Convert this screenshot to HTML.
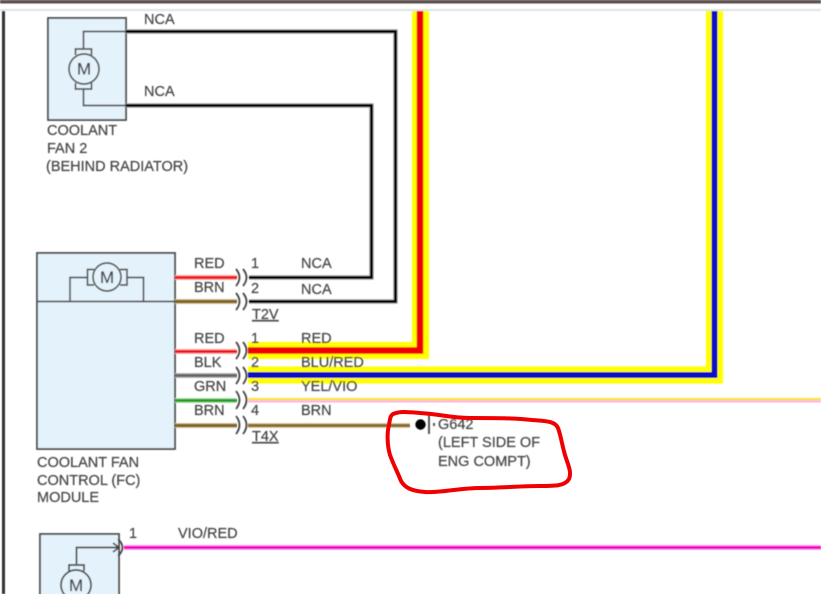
<!DOCTYPE html>
<html>
<head>
<meta charset="utf-8">
<style>
html,body{margin:0;padding:0;background:#fff;width:821px;height:594px;overflow:hidden}
svg{display:block}
text{font-family:"Liberation Sans",sans-serif;font-size:14.5px;fill:#444;stroke:#555;stroke-width:0.25px}
</style>
</head>
<body>
<svg width="821" height="594" viewBox="0 0 821 594" xmlns="http://www.w3.org/2000/svg">
<defs><filter id="b" x="-2%" y="-2%" width="104%" height="104%"><feGaussianBlur stdDeviation="0.45"/></filter></defs>
<rect width="821" height="594" fill="#fff"/>
<g filter="url(#b)">
<!-- chrome -->
<rect x="0" y="0" width="821" height="3.500" fill="#5b5050"/>
<rect x="0" y="9" width="821" height="2" fill="#dfe3e3"/>
<rect x="2" y="11" width="3" height="583" fill="#333"/>

<!-- boxes -->
<g fill="#e4f3fb" stroke="#4a4a4a" stroke-width="1.800">
<rect x="48" y="18" width="78" height="102"/>
<rect x="37" y="253" width="138" height="196"/>
<rect x="40" y="534" width="79" height="70"/>
</g>
<line x1="37" y1="301.500" x2="175" y2="301.500" stroke="#555" stroke-width="1.800"/>

<!-- coolant fan 2 motor -->
<g fill="none" stroke="#555" stroke-width="1.700">
<path d="M126 31.500H83.500V49M83.500 89V105.500H126"/>
<path d="M75.500 55V49H91.500V55M75.500 83V89H91.500V83"/>
<circle cx="84" cy="69" r="15" fill="#e4f3fb"/>
</g>
<text x="77" y="74.500" style="font-size:17px">M</text>

<!-- module motor -->
<g fill="none" stroke="#555" stroke-width="1.700">
<path d="M70 301V277.500H88M127 277.500H143.500V301"/>
<path d="M94 269.500H87.500V285H94M120 269.500H127V285H120"/>
<circle cx="107" cy="277" r="14" fill="#e4f3fb"/>
</g>
<text x="100" y="283" style="font-size:17px">M</text>

<!-- bottom motor -->
<g fill="none" stroke="#444" stroke-width="1.700">
<path d="M76.500 564V547.500H119M113 543L119 547.500L113 552"/>
<path d="M69 571V565H84V571"/>
<circle cx="76" cy="585" r="15" fill="#e4f3fb"/>
</g>
<text x="69" y="591" style="font-size:17px">M</text>

<!-- black wires -->
<g fill="none" stroke-linejoin="miter">
<path d="M126 31.500H395.500V301.500H249" stroke="#aaa" stroke-width="4.500"/>
<path d="M126 105.500H371.500V277.500H249" stroke="#aaa" stroke-width="4.500"/>
<path d="M126 31.500H395.500V301.500H249" stroke="#000" stroke-width="2.800"/>
<path d="M126 105.500H371.500V277.500H249" stroke="#000" stroke-width="2.800"/>
</g>

<!-- module side wires -->
<rect x="175" y="275" width="62" height="5" fill="#ffb0b0"/>
<rect x="175" y="276" width="62" height="3" fill="#f01818"/>
<rect x="175" y="299" width="62" height="5" fill="#cfc39a"/>
<rect x="175" y="300" width="62" height="3" fill="#80601c"/>
<rect x="175" y="349" width="62" height="5" fill="#ffb0b0"/>
<rect x="175" y="350" width="62" height="3" fill="#f01818"/>
<rect x="175" y="373" width="62" height="5" fill="#bbb"/>
<rect x="175" y="374" width="62" height="3" fill="#666"/>
<rect x="175" y="398" width="62" height="5" fill="#b0e0b0"/>
<rect x="175" y="399" width="62" height="3" fill="#22a022"/>
<rect x="175" y="423" width="62" height="5" fill="#cfc39a"/>
<rect x="175" y="424" width="62" height="3" fill="#80601c"/>

<!-- red/yellow -->
<path d="M248 350.500H420.500V11" fill="none" stroke="#ffff00" stroke-width="17"/>
<path d="M248 350.500H420V11" fill="none" stroke="#f00000" stroke-width="6.500"/>
<!-- blue/yellow -->
<path d="M248 375H714.500V11" fill="none" stroke="#ffff00" stroke-width="17"/>
<path d="M248 375H714.500V11" fill="none" stroke="#1010c8" stroke-width="6"/>
<!-- yel/vio -->
<rect x="248" y="398" width="573" height="2.500" fill="#ffe040"/>
<rect x="248" y="400.500" width="573" height="2" fill="#ffb0e8"/>
<!-- brown -->
<rect x="248" y="423" width="162" height="5" fill="#d8cca8"/>
<rect x="248" y="424" width="162" height="3" fill="#8a6a20"/>
<!-- pink -->
<rect x="124" y="545" width="697" height="5" fill="#ffa0f0"/>
<rect x="124" y="546" width="697" height="3" fill="#f000c8"/>

<!-- connectors -->
<g fill="none" stroke="#444" stroke-width="1.800">
<path d="M236 269Q243 277.500 236 286M243 269Q250 277.500 243 286"/>
<path d="M236 293Q243 301.500 236 310M243 293Q250 301.500 243 310"/>
<path d="M236 342Q243 350.500 236 359M243 342Q250 350.500 243 359"/>
<path d="M236 367Q243 375.500 236 384M243 367Q250 375.500 243 384"/>
<path d="M236 391Q243 400 236 409M243 391Q250 400 243 409"/>
<path d="M236 416Q243 425 236 434M243 416Q250 425 243 434"/>
<path d="M118 539Q127 547.500 118 556"/>
</g>

<!-- ground -->
<circle cx="420.500" cy="424.500" r="5.200" fill="#000"/>
<path d="M429 415V434M434 423V426" stroke="#444" stroke-width="1.800"/>

<!-- labels -->
<text x="144" y="24">NCA</text>
<text x="144" y="96">NCA</text>
<text x="47" y="135">COOLANT</text>
<text x="47" y="153">FAN 2</text>
<text x="46" y="171">(BEHIND RADIATOR)</text>

<text x="194" y="268">RED</text>
<text x="194" y="292">BRN</text>
<text x="194" y="343">RED</text>
<text x="194" y="367">BLK</text>
<text x="194" y="391">GRN</text>
<text x="194" y="415">BRN</text>

<text x="251" y="268">1</text>
<text x="251" y="293">2</text>
<text x="252" y="319" text-decoration="underline">T2V</text>
<text x="251" y="343">1</text>
<text x="251" y="367">2</text>
<text x="251" y="391">3</text>
<text x="251" y="415">4</text>
<text x="252" y="441" text-decoration="underline">T4X</text>

<text x="301" y="268">NCA</text>
<text x="301" y="294">NCA</text>
<text x="301" y="343">RED</text>
<text x="301" y="367">BLU/RED</text>
<text x="301" y="391">YEL/VIO</text>
<text x="301" y="415">BRN</text>

<text x="438" y="429">G642</text>
<text x="438" y="447">(LEFT SIDE OF</text>
<text x="438" y="466">ENG COMPT)</text>

<text x="37" y="467">COOLANT FAN</text>
<text x="37" y="485">CONTROL (FC)</text>
<text x="37" y="502">MODULE</text>

<text x="129" y="538">1</text>
<text x="178" y="538">VIO/RED</text>
</g>

<!-- red annotation -->
<path d="M393 414C400 411 408 412 420 413C440 414 450 418 470 418C495 418 515 418 532 420C546 421 555 421 558 428C561 436 562 445 565 455C568 465 572 472 569 479C565 486 555 486 540 486C520 486 500 488 480 488C460 488 440 493 425 492C412 491 405 488 401 481C398 473 394 466 390 455C387 445 387 432 389 425C390 419 390 416 393 414Z" fill="none" stroke="#f00000" stroke-width="4" stroke-linejoin="round"/>
</svg>
</body>
</html>
